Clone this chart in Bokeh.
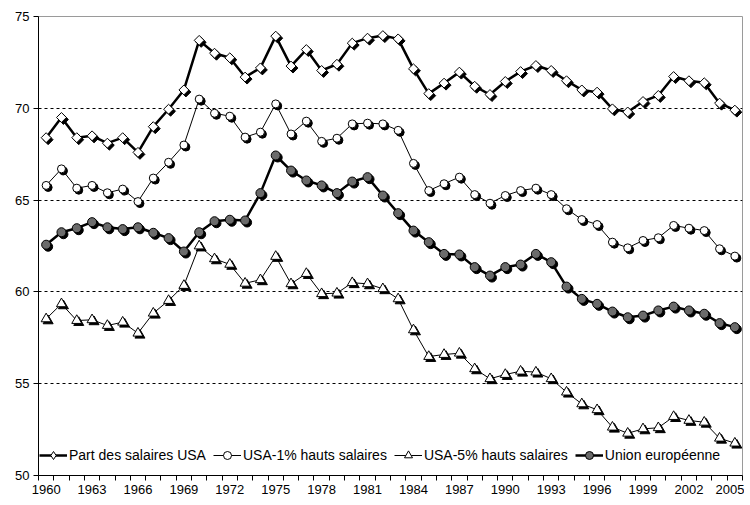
import numpy as np
from bokeh.plotting import figure
from bokeh.models import (Range1d, FixedTicker, Legend, LegendItem)
from bokeh.embed import file_html
from bokeh.resources import INLINE

years = list(range(1960, 2006))
tick_years = list(range(1960, 2006, 3))

part_salaires_usa = [68.4, 69.5, 68.4, 68.5, 68.1, 68.4, 67.6, 69.0, 69.95, 71.0,
                     73.7, 73.0, 72.75, 71.7, 72.2, 73.93, 72.3, 73.2, 72.06, 72.4,
                     73.55, 73.82, 73.96, 73.78, 72.15, 70.8, 71.37, 71.97, 71.2, 70.75,
                     71.46, 72.0, 72.33, 72.06, 71.5, 71.0, 70.88, 69.97, 69.8, 70.37,
                     70.7, 71.73, 71.5, 71.39, 70.28, 69.9]
usa_1pct = [65.8, 66.7, 65.65, 65.8, 65.4, 65.6, 64.92, 66.2, 67.06, 68.0,
            70.5, 69.73, 69.57, 68.43, 68.7, 70.24, 68.6, 69.3, 68.2, 68.37,
            69.15, 69.19, 69.15, 68.8, 67.0, 65.52, 65.89, 66.25, 65.3, 64.83,
            65.25, 65.52, 65.65, 65.3, 64.53, 63.94, 63.67, 62.71, 62.4, 62.8,
            62.95, 63.62, 63.47, 63.34, 62.35, 61.95]
usa_5pct = [58.53, 59.35, 58.44, 58.48, 58.17, 58.35, 57.75, 58.84, 59.53, 60.35,
            62.5, 61.8, 61.5, 60.47, 60.66, 61.93, 60.44, 61.0, 59.9, 59.93,
            60.5, 60.44, 60.17, 59.62, 57.93, 56.48, 56.59, 56.66, 55.81, 55.27,
            55.5, 55.68, 55.63, 55.27, 54.54, 53.9, 53.58, 52.63, 52.3, 52.54,
            52.6, 53.21, 53.0, 52.9, 52.03, 51.76]
union_europeenne = [62.57, 63.25, 63.47, 63.8, 63.52, 63.42, 63.52, 63.22, 62.93, 62.2,
                    63.25, 63.85, 63.93, 63.89, 65.38, 67.43, 66.61, 66.07, 65.8, 65.38,
                    66.01, 66.25, 65.25, 64.29, 63.34, 62.71, 62.07, 62.04, 61.35, 60.89,
                    61.35, 61.49, 62.07, 61.62, 60.29, 59.62, 59.35, 58.93, 58.62, 58.71,
                    58.99, 59.2, 58.99, 58.81, 58.3, 58.08]

labels = ["Part des salaires USA", "USA-1% hauts salaires",
          "USA-5% hauts salaires", "Union européenne"]

FONT = "Liberation Sans"

p = figure(width=744, height=497, output_backend="svg", toolbar_location=None,
           x_range=Range1d(1959.5, 2005.5), y_range=Range1d(50, 75),
           min_border_left=38, min_border_top=16, min_border_bottom=22,
           min_border_right=2)
p.background_fill_color = "white"
p.border_fill_color = "white"
p.outline_line_color = "#9a9a9a"
p.outline_line_width = 1

# axes
p.xaxis.ticker = FixedTicker(ticks=tick_years,
                             minor_ticks=[y - 0.5 for y in years] + [years[-1] + 0.5])
p.xaxis.major_tick_out = 0
p.xaxis.major_tick_in = 0
p.xaxis.minor_tick_out = 5
p.xaxis.minor_tick_in = 0
p.xaxis.minor_tick_line_color = "black"
p.xaxis.axis_line_color = "black"
p.xaxis.major_label_text_font = FONT
p.xaxis.major_label_text_font_size = "13px"
p.xaxis.major_label_text_color = "black"
p.xaxis.major_label_standoff = 4

p.yaxis.ticker = FixedTicker(ticks=[50, 55, 60, 65, 70, 75], minor_ticks=[])
p.yaxis.major_tick_out = 5
p.yaxis.major_tick_in = 0
p.yaxis.major_tick_line_color = "black"
p.yaxis.axis_line_color = "black"
p.yaxis.major_label_text_font = FONT
p.yaxis.major_label_text_font_size = "13px"
p.yaxis.major_label_text_color = "black"
p.yaxis.major_label_standoff = 4

p.xgrid.grid_line_color = None
p.ygrid.ticker = FixedTicker(ticks=[55, 60, 65, 70])
p.ygrid.grid_line_color = "black"
p.ygrid.grid_line_dash = "3 3"
p.ygrid.grid_line_width = 1

x = np.array(years, dtype=float)
dx, dy = 0.13, 0.11  # ~2px shadow offset

series = [
    (part_salaires_usa, 2.5, dict(marker="square", size=7, angle=np.pi / 4), "white"),
    (usa_1pct, 1, dict(marker="circle", size=8), "white"),
    (usa_5pct, 1, dict(marker="triangle", size=10), "white"),
    (union_europeenne, 2.5, dict(marker="circle", size=9), "#6b6b6b"),
]

items = []
for i, ((vals, lw, mk, fill), lab) in enumerate(zip(series, labels)):
    yv = np.array(vals)
    ln = p.line(x, yv, line_color="black", line_width=lw)
    p.scatter(x + dx, yv - dy, fill_color="black", line_color="black", **mk)
    sc = p.scatter(x, yv, fill_color=fill, line_color="black", line_width=1, **mk)
    if i == 0:
        # legend-only proxy: Bokeh legends ignore marker angle
        proxy = p.scatter([np.nan], [np.nan], marker="diamond", fill_color=fill,
                          line_color="black", line_width=1)
        items.append(LegendItem(label=lab, renderers=[ln, proxy]))
    else:
        items.append(LegendItem(label=lab, renderers=[ln, sc]))

legend = Legend(items=items, orientation="horizontal", location=(1, 10),
                border_line_color=None, background_fill_alpha=0,
                padding=0, margin=0, spacing=7, glyph_width=28, glyph_height=20,
                label_standoff=2, label_text_font=FONT,
                label_text_font_size="14px", label_text_color="black")
p.add_layout(legend)

open("out.html", "w").write(file_html(p, INLINE))
